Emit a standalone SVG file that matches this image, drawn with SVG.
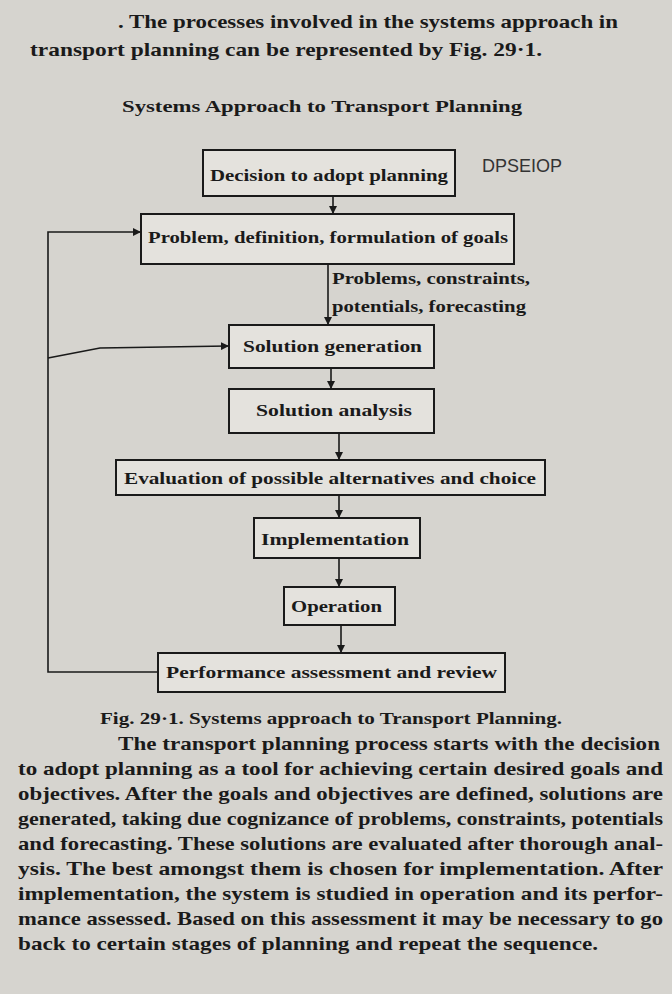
<svg xmlns="http://www.w3.org/2000/svg" width="672" height="994" viewBox="0 0 672 994">
<defs>
<marker id="ah" markerWidth="8" markerHeight="8" refX="7" refY="4" orient="auto" markerUnits="userSpaceOnUse"><path d="M0,0 L8,4 L0,8 z" fill="#1a1a1a"/></marker>
</defs>
<style>
.b{fill:#e4e2dd;stroke:#1a1a1a;stroke-width:2}
.t{font-family:"Liberation Serif",serif;font-weight:bold;font-size:17px;fill:#1a1a1a}
.p{font-family:"Liberation Serif",serif;font-weight:bold;font-size:19px;fill:#1a1a1a}
.c{stroke:#1a1a1a;stroke-width:1.6;fill:none}
</style>
<rect width="672" height="994" fill="#d6d4cf"/>
<text class="p" x="118" y="28" textLength="500" lengthAdjust="spacingAndGlyphs">. The processes involved in the systems approach in</text>
<text class="p" x="30" y="56" textLength="512" lengthAdjust="spacingAndGlyphs">transport planning can be represented by Fig. 29·1.</text>
<text class="t" x="122" y="112" textLength="400" lengthAdjust="spacingAndGlyphs">Systems Approach to Transport Planning</text>
<text x="482" y="172" font-family="Liberation Sans,sans-serif" font-size="18" fill="#333">DPSEIOP</text>
<g id="n1"><rect class="b" x="203" y="150" width="252" height="46"/><text class="t" x="210" y="181" textLength="238" lengthAdjust="spacingAndGlyphs">Decision to adopt planning</text></g>
<g id="n2"><rect class="b" x="141" y="214" width="373" height="50"/><text class="t" x="148" y="243" textLength="360" lengthAdjust="spacingAndGlyphs">Problem, definition, formulation of goals</text></g>
<g id="lbl"><text class="t" x="332" y="284" textLength="198" lengthAdjust="spacingAndGlyphs">Problems, constraints,</text><text class="t" x="332" y="312" textLength="194" lengthAdjust="spacingAndGlyphs">potentials, forecasting</text></g>
<g id="n3"><rect class="b" x="229" y="325" width="205" height="43"/><text class="t" x="243" y="352" textLength="179" lengthAdjust="spacingAndGlyphs">Solution generation</text></g>
<g id="n4"><rect class="b" x="229" y="389" width="205" height="44"/><text class="t" x="256" y="416" textLength="156" lengthAdjust="spacingAndGlyphs">Solution analysis</text></g>
<g id="n5"><rect class="b" x="116" y="460" width="429" height="35"/><text class="t" x="124" y="484" textLength="412" lengthAdjust="spacingAndGlyphs">Evaluation of possible alternatives and choice</text></g>
<g id="n6"><rect class="b" x="254" y="518" width="166" height="40"/><text class="t" x="261" y="545" textLength="148" lengthAdjust="spacingAndGlyphs">Implementation</text></g>
<g id="n7"><rect class="b" x="284" y="587" width="111" height="38"/><text class="t" x="291" y="612" textLength="91" lengthAdjust="spacingAndGlyphs">Operation</text></g>
<g id="n8"><rect class="b" x="158" y="653" width="347" height="39"/><text class="t" x="166" y="678" textLength="331" lengthAdjust="spacingAndGlyphs">Performance assessment and review</text></g>
<g id="connectors">
<line class="c" x1="333" y1="196" x2="333" y2="213" marker-end="url(#ah)"/>
<line class="c" x1="328" y1="264" x2="328" y2="324" marker-end="url(#ah)"/>
<line class="c" x1="331" y1="368" x2="331" y2="388" marker-end="url(#ah)"/>
<line class="c" x1="339" y1="433" x2="339" y2="459" marker-end="url(#ah)"/>
<line class="c" x1="339" y1="495" x2="339" y2="517" marker-end="url(#ah)"/>
<line class="c" x1="339" y1="558" x2="339" y2="586" marker-end="url(#ah)"/>
<line class="c" x1="341" y1="625" x2="341" y2="652" marker-end="url(#ah)"/>
<polyline class="c" points="158,672 48,672 48,232 140,232" marker-end="url(#ah)"/>
<polyline class="c" points="48,358 100,348 228,346" marker-end="url(#ah)"/>
</g>
<text class="t" x="100" y="724" textLength="462" lengthAdjust="spacingAndGlyphs">Fig. 29·1. Systems approach to Transport Planning.</text>
<text class="p" x="118" y="750" textLength="542" lengthAdjust="spacingAndGlyphs">The transport planning process starts with the decision</text>
<text class="p" x="18" y="775" textLength="645" lengthAdjust="spacingAndGlyphs">to adopt planning as a tool for achieving certain desired goals and</text>
<text class="p" x="18" y="800" textLength="645" lengthAdjust="spacingAndGlyphs">objectives. After the goals and objectives are defined, solutions are</text>
<text class="p" x="18" y="825" textLength="645" lengthAdjust="spacingAndGlyphs">generated, taking due cognizance of problems, constraints, potentials</text>
<text class="p" x="18" y="850" textLength="645" lengthAdjust="spacingAndGlyphs">and forecasting. These solutions are evaluated after thorough anal-</text>
<text class="p" x="18" y="875" textLength="645" lengthAdjust="spacingAndGlyphs">ysis. The best amongst them is chosen for implementation. After</text>
<text class="p" x="18" y="900" textLength="645" lengthAdjust="spacingAndGlyphs">implementation, the system is studied in operation and its perfor-</text>
<text class="p" x="18" y="925" textLength="645" lengthAdjust="spacingAndGlyphs">mance assessed. Based on this assessment it may be necessary to go</text>
<text class="p" x="18" y="950" textLength="580" lengthAdjust="spacingAndGlyphs">back to certain stages of planning and repeat the sequence.</text>
</svg>
